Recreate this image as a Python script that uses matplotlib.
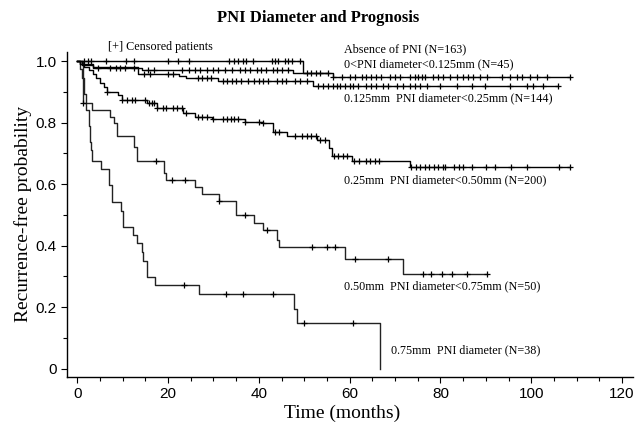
import matplotlib
matplotlib.use("Agg")
import matplotlib.pyplot as plt
import numpy as np

# step curves: event times, survival after each event, end of follow-up, censor times
absent_t = [0, 1.0, 3.5, 14.2, 47.6, 56.4]
absent_s = [1.0, 0.988, 0.978, 0.971, 0.963, 0.948]
absent_end = 108.5
absent_cens = [4.5, 7.2, 8.5, 9.5, 10.5, 12.5, 15.5, 17, 23, 24.5, 26, 27, 28.5, 30, 31, 32.5,
               34, 35.9, 37, 38, 39.5, 40.5, 41.5, 43, 44, 45, 46.5, 56.4, 58.2, 60.1, 61.2,
               62.6, 63.7, 64.8, 65.9, 67.0, 68.9, 70.0, 71.1, 73.3, 74.4, 75.1, 75.9, 76.6,
               78.4, 79.5, 80.6, 82.1, 83.6, 85.0, 86.1, 87.2, 88.7, 90.2, 93.5, 95.3, 96.8,
               97.9, 99.7, 101.2, 103.4, 108.5]

small_t = [0, 49.8]
small_s = [1.0, 0.963]
small_end = 55.3
small_cens = [1.5, 2.3, 3.0, 6.3, 10.7, 12.6, 19.9, 22.1, 24.7, 33.4, 34.5, 35.5, 36.5, 37.2,
              38.7, 42.8, 43.5, 44.2, 45.7, 46.5, 47.3, 49.0, 50.5, 51.5, 52.5, 53.5, 55.3]

d125_t = [0, 0.6, 3.5, 13.4, 22.5, 24.0, 30.9, 52.0]
d125_s = [1.0, 0.99, 0.98, 0.96, 0.953, 0.946, 0.937, 0.919]
d125_end = 105.8
d125_cens = [14.8, 16, 20, 21, 26.6, 27.5, 28.5, 29.5, 32, 33, 34, 35, 36, 37.5, 39, 40, 41,
             42, 44, 45, 46, 48, 49, 50.5, 53.1, 54.2, 55.3, 56.4, 57.1, 57.9, 59.0, 60.1,
             60.8, 61.9, 63.7, 64.8, 65.9, 67.4, 68.5, 70.4, 71.8, 73.3, 74.4, 75.5, 77.0,
             79.9, 83.6, 86.9, 89.8, 95.3, 99.0, 100.4, 102.6, 105.8]

d25_t = [0, 0.5, 1.5, 2.5, 3.5, 4.2, 5.0, 5.8, 6.5, 9.0, 9.8, 15.3, 17.5, 23.3, 25.9, 29.6,
         36.9, 41.0, 43.2, 46.1, 52.7, 55.5, 56.2, 60.4, 73.3]
d25_s = [1.0, 0.99, 0.98, 0.97, 0.96, 0.945, 0.928, 0.915, 0.901, 0.89, 0.874, 0.863, 0.847,
         0.831, 0.82, 0.811, 0.803, 0.798, 0.771, 0.757, 0.744, 0.717, 0.692, 0.675, 0.657]
d25_end = 108.5
d25_cens = [6.5, 9.9, 11, 12, 12.8, 15, 15.8, 16.5, 17, 17.5, 18.8, 19.5, 21, 22, 23, 24,
            26.5, 27.5, 28.5, 30, 32, 33, 33.8, 34.5, 35.5, 37, 40, 41, 43.5, 44.5, 48, 49.5,
            50.5, 51.5, 52.5, 53.5, 54.5, 56.5, 57.5, 58.5, 59.5, 61, 62, 63.5, 64.5, 65.5,
            66.5, 73.5, 74.5, 75.5, 76.5, 77.5, 78.5, 79.5, 80.5, 81, 83, 84, 85, 87, 90,
            92, 95.5, 99, 106, 108.5]

d50_t = [0, 1.3, 3.3, 7.2, 8.1, 8.8, 12.5, 13.2, 19.0, 19.5, 25.9, 27.5, 31.3, 35.0, 38.9,
         40.8, 44.0, 44.5, 59.0, 71.8]
d50_s = [1.0, 0.863, 0.841, 0.82, 0.798, 0.758, 0.722, 0.676, 0.637, 0.614, 0.592, 0.567,
         0.545, 0.5, 0.475, 0.451, 0.42, 0.397, 0.357, 0.307]
d50_end = 90.2
d50_cens = [1.3, 17.4, 20.8, 23.7, 31.3, 36.9, 41.7, 51.8, 54.9, 56.8, 61.2, 68.4, 76.1,
            77.9, 80.3, 82.6, 85.9, 90.2]

d75_t = [0, 0.5, 1.0, 1.5, 2.0, 2.5, 2.8, 3.1, 3.3, 5.2, 7.0, 7.6, 9.6, 10.1, 12.2, 13.1,
         14.2, 14.5, 15.4, 17.1, 26.9, 47.7, 48.3, 66.7]
d75_s = [1.0, 0.974, 0.947, 0.895, 0.842, 0.79, 0.737, 0.711, 0.676, 0.648, 0.597, 0.541,
         0.514, 0.46, 0.435, 0.408, 0.38, 0.35, 0.297, 0.272, 0.243, 0.193, 0.148, 0.0]
d75_end = 66.7
d75_cens = [23.5, 32.7, 36.6, 43.2, 50.0, 60.8]

labels = ["Absence of PNI (N=163)",
          "0<PNI diameter<0.125mm (N=45)",
          "0.125mm  PNI diameter<0.25mm (N=144)",
          "0.25mm  PNI diameter<0.50mm (N=200)",
          "0.50mm  PNI diameter<0.75mm (N=50)",
          "0.75mm  PNI diameter (N=38)"]

serif = "Liberation Serif"
sans = "Liberation Sans"

fig = plt.figure(figsize=(6.39, 4.25), dpi=100)
ax = fig.add_axes([67.3 / 639, 48.3 / 425, 565.7 / 639, 324.7 / 425])

curves = [
    (d75_t, d75_s, d75_end, d75_cens, "#222222"),
    (d50_t, d50_s, d50_end, d50_cens, "#222222"),
    (d25_t, d25_s, d25_end, d25_cens, "black"),
    (d125_t, d125_s, d125_end, d125_cens, "black"),
    (small_t, small_s, small_end, small_cens, "black"),
    (absent_t, absent_s, absent_end, absent_cens, "black"),
]

for t, s, end, cens, col in curves:
    tt = list(t) + [end]
    ss = list(s) + [s[-1]]
    ax.step(tt, ss, where="post", color=col, lw=1.0)
    idx = np.searchsorted(t, cens, side="right") - 1
    ax.plot(cens, np.array(s)[idx], ls="none", marker="+", ms=4.5, mew=0.9, color="black")

ax.set_xlim(-2.2, 122.4)
ax.set_ylim(-0.026, 1.03)
ax.set_xticks([0, 20, 40, 60, 80, 100, 120])
ax.set_xticks(np.arange(0, 121, 5), minor=True)
ax.set_yticks([0, 0.2, 0.4, 0.6, 0.8, 1.0])
ax.set_yticklabels(["0", "0.2", "0.4", "0.6", "0.8", "1.0"])
ax.set_yticks(np.arange(0, 1.01, 0.1), minor=True)
ax.tick_params(which="major", length=4, width=0.8, labelsize=11)
ax.tick_params(which="minor", length=3, width=0.8)
for lab in ax.get_xticklabels() + ax.get_yticklabels():
    lab.set_fontfamily(sans)

ax.spines["top"].set_visible(False)
ax.spines["right"].set_visible(False)
ax.spines["left"].set_linewidth(1.0)
ax.spines["bottom"].set_linewidth(1.0)

ax.set_xlabel("Time (months)", fontfamily=serif, fontsize=14, labelpad=0)
ax.xaxis.set_label_coords(0.485, -0.085)
ax.set_ylabel("Recurrence-free probability", fontfamily=serif, fontsize=14, labelpad=3)
fig.text(0.498, 0.957, "PNI Diameter and Prognosis", ha="center", va="center",
         fontfamily=serif, fontsize=12, fontweight="bold")

txt = dict(fontfamily=serif, fontsize=8.7, va="center", ha="left")
ax.text(6.8, 1.046, "[+] Censored patients", **txt)
ax.text(58.7, 1.040, labels[0], **txt)
ax.text(58.7, 0.991, labels[1], **txt)
ax.text(58.7, 0.880, labels[2], **txt)
ax.text(58.7, 0.614, labels[3], **txt)
ax.text(58.7, 0.268, labels[4], **txt)
ax.text(69.2, 0.061, labels[5], **txt)

fig.savefig("out.png", dpi=100)
